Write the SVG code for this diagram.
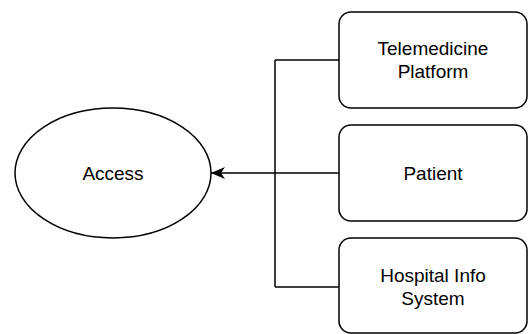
<svg xmlns="http://www.w3.org/2000/svg" width="528" height="334" viewBox="0 0 528 334">
<defs>
<style>
.box{fill:#fff;stroke:#000;stroke-width:1.5}
.lbl{font-family:"Liberation Sans",Arial,sans-serif;font-size:19px;fill:#000;text-anchor:middle}
.con{fill:none;stroke:#000;stroke-width:1.5}
</style>
<marker id="arr" markerUnits="userSpaceOnUse" markerWidth="16" markerHeight="14" refX="15" refY="7" orient="auto" viewBox="0 0 16 14">
<path d="M15,7 L1,1 L5,7 L1,13 Z" fill="#000"/>
</marker>
</defs>
<rect width="528" height="334" fill="#fff"/>
<g id="access">
<ellipse class="box" cx="113" cy="173" rx="98" ry="65"/>
<text class="lbl" x="113" y="179.5">Access</text>
</g>
<g id="connectors">
<path class="con" d="M275,60 L275,287"/>
<path class="con" d="M339,60 L275,60"/>
<path class="con" d="M339,287 L275,287"/>
<path class="con" d="M339,173 L211,173" marker-end="url(#arr)"/>
</g>
<g id="telemedicine">
<rect class="box" x="339" y="12" width="188" height="96" rx="12"/>
<text class="lbl" x="433" y="55">Telemedicine</text>
<text class="lbl" x="433" y="78">Platform</text>
</g>
<g id="patient">
<rect class="box" x="339" y="125" width="188" height="96" rx="12"/>
<text class="lbl" x="433" y="179.5">Patient</text>
</g>
<g id="hospital">
<rect class="box" x="339" y="238" width="188" height="95" rx="12"/>
<text class="lbl" x="433" y="282">Hospital Info</text>
<text class="lbl" x="433" y="305">System</text>
</g>
</svg>
